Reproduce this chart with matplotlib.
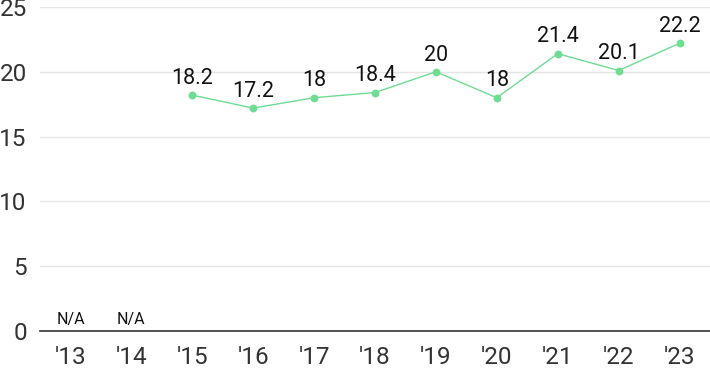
import matplotlib
matplotlib.use("Agg")
import matplotlib.pyplot as plt
import numpy as np

years = ["'13", "'14", "'15", "'16", "'17", "'18", "'19", "'20", "'21", "'22", "'23"]
values = [None, None, 18.2, 17.2, 18, 18.4, 20, 18, 21.4, 20.1, 22.2]
labels = ["N/A", "N/A", "18.2", "17.2", "18", "18.4", "20", "18", "21.4", "20.1", "22.2"]
yticks = [0, 5, 10, 15, 20, 25]

plt.rcParams['font.family'] = ['Roboto', 'DejaVu Sans']

fig = plt.figure(figsize=(7.10, 3.71), dpi=100)
ax = fig.add_axes([40/710, 40/371, 670/710, 324/371])

x = np.arange(len(years))
xs = [i for i, v in zip(x, values) if v is not None]
ys = [v for v in values if v is not None]
green = '#6fdc93'
ax.plot(xs, ys, color=green, lw=1.0, zorder=3)
ax.scatter(xs, ys, s=32, color=green, zorder=4, linewidths=0)

for i, (v, lab) in enumerate(zip(values, labels)):
    if v is None:
        ax.annotate(lab, (i, 0), xytext=(0, 3), textcoords='offset points',
                    ha='center', va='bottom', fontsize=11.5, color='#111111')
    else:
        ax.annotate(lab, (i, v), xytext=(0, 4.5), textcoords='offset points',
                    ha='center', va='bottom', fontsize=15.5, color='#111111')

ax.set_xlim(-0.5, len(years) - 0.5)
ax.set_ylim(0, 25)
ax.set_yticks(yticks)
ax.set_xticks(x)
ax.set_xticklabels(years)
ax.tick_params(axis='both', length=0, labelsize=17.5, colors='#333333')
ax.tick_params(axis='y', pad=9.5)
ax.tick_params(axis='x', pad=11)
ax.grid(axis='y', color='#e5e5e5', lw=1)
ax.set_axisbelow(True)
for s in ['top', 'right', 'left']:
    ax.spines[s].set_visible(False)
ax.spines['bottom'].set_color('#333333')
ax.spines['bottom'].set_linewidth(1.2)

fig.savefig('out.png', dpi=100)
